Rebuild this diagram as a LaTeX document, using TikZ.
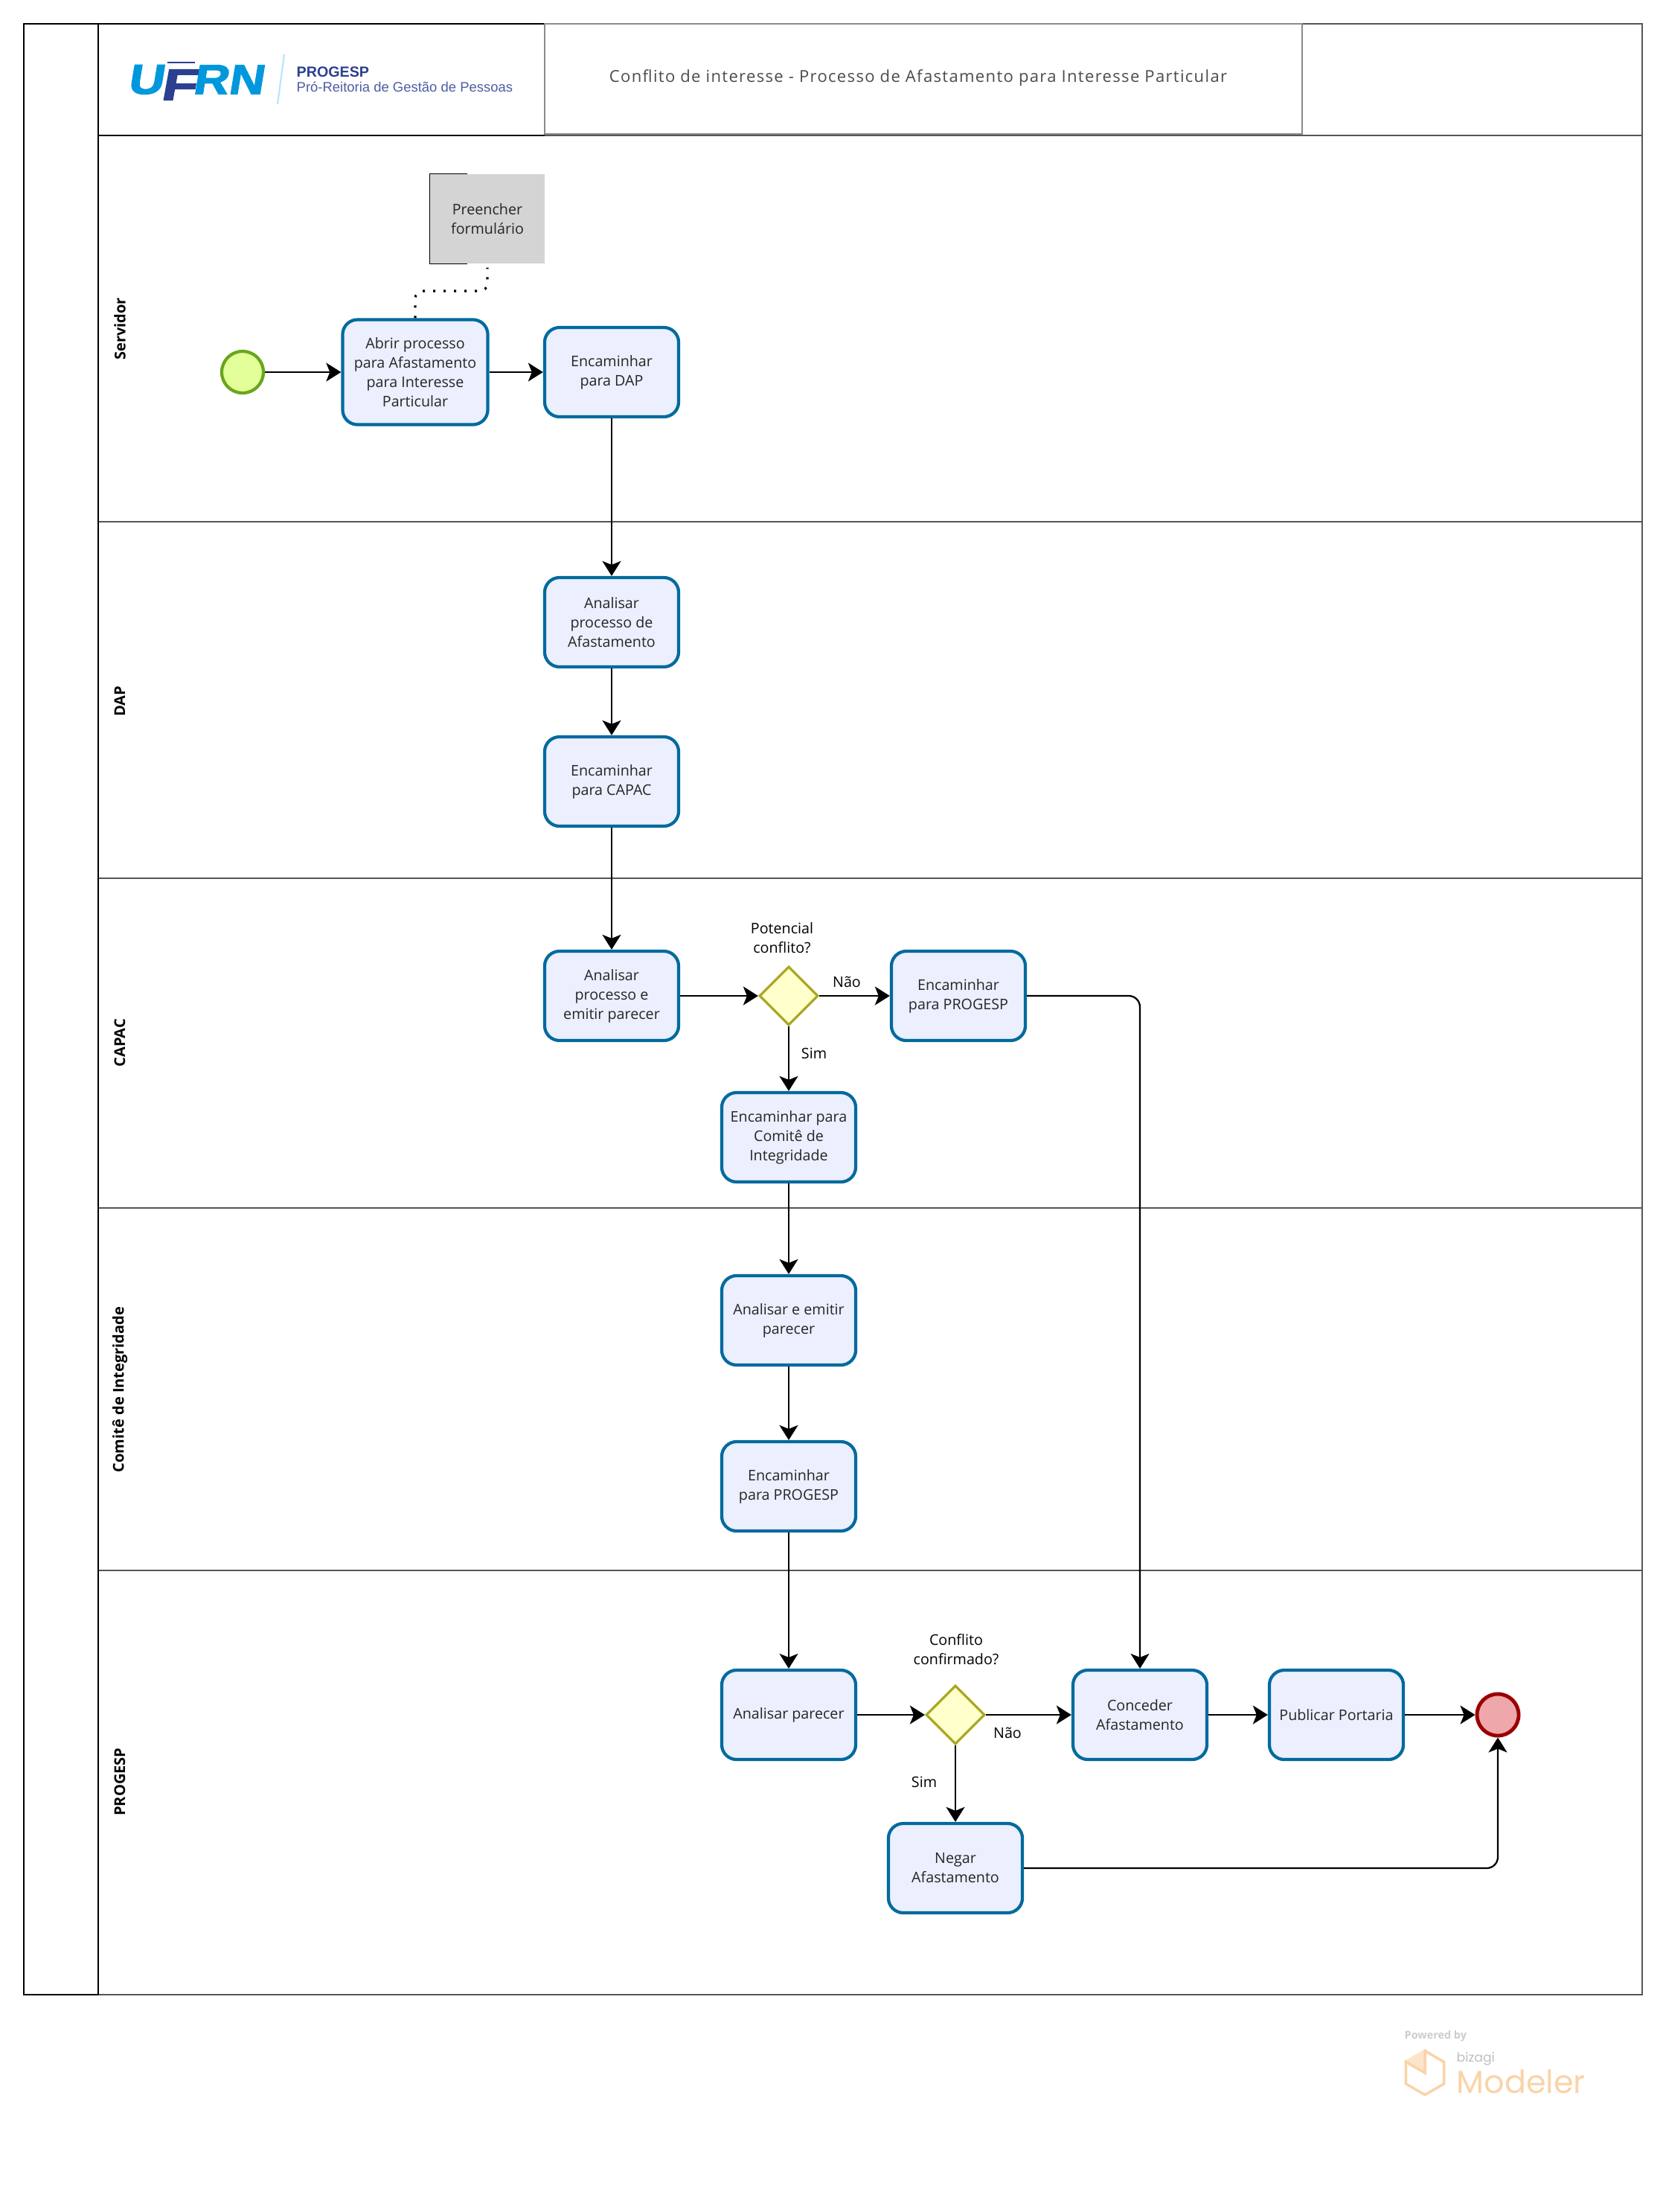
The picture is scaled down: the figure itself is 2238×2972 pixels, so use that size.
\documentclass[tikz,border=0pt]{standalone}
\usepackage{fontspec}
\setmainfont{Open Sans}
\newfontfamily\logofont{Liberation Sans}
\newfontfamily\logoheavy[FakeBold=2.2,FakeSlant=0.14]{Liberation Sans Bold}
\newfontfamily\markfont{Poppins}
\newfontfamily\titlefont[LetterSpace=6]{Open Sans}
\usetikzlibrary{arrows.meta,shapes.geometric}
\definecolor{taskline}{HTML}{006A9E}
\definecolor{taskfill}{HTML}{ECEFFE}
\definecolor{gateline}{HTML}{A8A820}
\definecolor{gatefill}{HTML}{FFFFCC}
\definecolor{startline}{HTML}{6AA51B}
\definecolor{startfill}{HTML}{E2FF99}
\definecolor{endline}{HTML}{9B0000}
\definecolor{endfill}{HTML}{EEA8AC}
\definecolor{lanegray}{HTML}{555555}
\definecolor{titlegray}{HTML}{8A8A8A}
\definecolor{ufrnblue}{HTML}{0098DC}
\definecolor{ufrndark}{HTML}{2B4090}
\definecolor{markorange}{HTML}{FAD3A8}
\tikzset{
  tasktext/.style={font=\fontsize{5.6}{7.4}\selectfont, align=center, text=black!85},
  taskbox/.style={tasktext, draw=taskline, fill=taskfill, line width=1.2pt, rounded corners=2mm,
    minimum width=18mm, minimum height=12mm, inner sep=0pt},
  gateway/.style={diamond, draw=gateline, fill=gatefill, line width=0.9pt, aspect=1,
    minimum width=7.9mm, minimum height=7.9mm, inner sep=0pt},
  flowlabel/.style={font=\fontsize{5.6}{7.4}\selectfont, align=center, text=black, inner sep=0pt},
  lanelabel/.style={font=\fontsize{5.7}{7}\selectfont\bfseries, rotate=90, inner sep=0pt},
  flow/.style={line width=0.65pt, -{Stealth[length=2mm,width=2.5mm,inset=0.5mm]}},
  logoletter/.style={font=\logoheavy\fontsize{16}{16}\selectfont, inner sep=0pt},
}
\begin{document}
\begin{tikzpicture}[x=0.01cm,y=-0.01cm]
  \useasboundingbox (0,0) rectangle (2238,2972);
  % lanes
  \draw[lanegray, line width=0.6pt] (132,32) rectangle (2207,2680);
  \foreach \ylane in {182,701,1180,1623,2110}
    \draw[lanegray, line width=0.5pt] (132,\ylane) -- (2207,\ylane);
  \draw[line width=0.6pt] (32,32) rectangle (132,2680);
  \draw[line width=0.7pt] (132,32) -- (732,32) (132,182) -- (732,182);
  \draw[titlegray, line width=0.6pt] (732,32) rectangle (1750,180);
  \node[lanelabel] (laneservidor) at (161,442) {Servidor};
  \node[lanelabel] (lanedap) at (161,942) {DAP};
  \node[lanelabel] (lanecapac) at (161,1401) {CAPAC};
  \node[lanelabel] (lanecomite) at (161,1867) {Comitê de Integridade};
  \node[lanelabel] (laneprogesp) at (161,2394) {PROGESP};

  % header
  \node[logoletter, text=ufrnblue, xscale=1.18] (logou) at (195,107) {U};
  \fill[ufrndark] (225,83) -- (262,83) -- (262,85) -- (225,85) -- cycle;
  \node[logoletter, text=ufrndark, xscale=1.3, font=\logoheavy\fontsize{17}{17}\selectfont] (logof) at (239,114) {F};
  \node[logoletter, text=ufrnblue, xscale=1.17] (logorn) at (306,107) {RN};
  \draw[cyan!30, line width=0.6pt] (382,73) -- (373,140);
  \node[anchor=west, inner sep=0pt, text=ufrndark, font=\logofont\fontsize{5.6}{7}\selectfont\bfseries] (logoprogesp) at (398,97) {PROGESP};
  \node[anchor=west, inner sep=0pt, text=ufrndark!85, font=\logofont\fontsize{5.25}{7}\selectfont] (logopro) at (398,117) {Pró-Reitoria de Gestão de Pessoas};
  \node[text=black!70, inner sep=0pt, font=\titlefont\fontsize{6.27}{8}\selectfont] (title) at (1234,105) {Conflito de interesse - Processo de Afastamento para Interesse Particular};

  % servidor
  \node[circle, draw=startline, fill=startfill, line width=1.2pt, minimum size=5.6mm, inner sep=0pt] (start) at (326,500) {};
  \node[taskbox, minimum width=19.5mm, minimum height=14.1mm] (abrir) at (558,500) {Abrir processo\\para Afastamento\\para Interesse\\Particular};
  \node[taskbox] (encdap) at (822,500) {Encaminhar\\para DAP};
  \node[tasktext, fill=black!17, minimum width=15.4mm, minimum height=12mm, inner sep=0pt] (form) at (655,294) {Preencher\\formulário};
  \draw[line width=0.4pt] ([xshift=5.1mm]form.north west) -- (form.north west) -- (form.south west) -- ([xshift=5.1mm]form.south west);
  \coordinate (assocmid) at (607,391);
  \draw[line width=0.9pt, dash pattern=on 0.3mm off 1.1mm, rounded corners=1mm, shorten >=0.5mm] (abrir.north) |- (assocmid) -| (form.south);

  % dap
  \node[taskbox] (analisardap) at (822,836) {Analisar\\processo de\\Afastamento};
  \node[taskbox] (enccapac) at (822,1050) {Encaminhar\\para CAPAC};

  % capac
  \node[taskbox] (analisarcapac) at (822,1338) {Analisar\\processo e\\emitir parecer};
  \node[gateway] (gatepot) at (1060,1338) {};
  \node[taskbox] (encprogesp) at (1288,1338) {Encaminhar\\para PROGESP};
  \node[taskbox] (enccomite) at (1060,1528) {Encaminhar para\\Comitê de\\Integridade};
  \node[flowlabel] (lblpot) at (1051,1260) {Potencial\\conflito?};
  \node[flowlabel] (lblnao) at (1138,1319) {Não};
  \node[flowlabel] (lblsim) at (1094,1415) {Sim};

  % comite
  \node[taskbox] (analisarcomite) at (1060,1774) {Analisar e emitir\\parecer};
  \node[taskbox] (encprogespb) at (1060,1997) {Encaminhar\\para PROGESP};

  % progesp
  \node[taskbox] (analisarparecer) at (1060,2304) {Analisar parecer};
  \node[gateway] (gateconf) at (1284,2304) {};
  \node[taskbox] (conceder) at (1532,2304) {Conceder\\Afastamento};
  \node[taskbox] (publicar) at (1796,2304) {Publicar Portaria};
  \node[taskbox] (negar) at (1284,2510) {Negar\\Afastamento};
  \node[circle, draw=endline, fill=endfill, line width=1.4pt, minimum size=5.6mm, inner sep=0pt] (fim) at (2013,2304) {};
  \node[flowlabel] (lblconf) at (1285,2216) {Conflito\\confirmado?};
  \node[flowlabel] (lblnaob) at (1354,2328) {Não};
  \node[flowlabel] (lblsimb) at (1242,2394) {Sim};

  % flows
  \draw[flow] (start) -- (abrir);
  \draw[flow] (abrir) -- (encdap);
  \draw[flow] (encdap) -- (analisardap);
  \draw[flow] (analisardap) -- (enccapac);
  \draw[flow] (enccapac) -- (analisarcapac);
  \draw[flow] (analisarcapac) -- (gatepot);
  \draw[flow] (gatepot) -- (encprogesp);
  \draw[flow] (gatepot) -- (enccomite);
  \draw[flow, rounded corners=1.5mm] (encprogesp) -| (conceder);
  \draw[flow] (enccomite) -- (analisarcomite);
  \draw[flow] (analisarcomite) -- (encprogespb);
  \draw[flow] (encprogespb) -- (analisarparecer);
  \draw[flow] (analisarparecer) -- (gateconf);
  \draw[flow] (gateconf) -- (conceder);
  \draw[flow] (gateconf) -- (negar);
  \draw[flow] (conceder) -- (publicar);
  \draw[flow] (publicar) -- (fim);
  \draw[flow, rounded corners=1.5mm] (negar) -| (fim);

  % footer mark
  \node[anchor=west, inner sep=0pt, text=black!20, font=\fontsize{4.1}{5}\selectfont\bfseries] (powered) at (1887,2736) {Powered by};
  \node[regular polygon, regular polygon sides=6, shape border rotate=30, draw=markorange, line width=1pt, minimum size=5.9mm, inner sep=0pt] (markhex) at (1915,2785) {};
  \fill[markorange!60] (markhex.center) -- (markhex.90) -- (markhex.150) -- cycle;
  \draw[markorange, line width=1pt] (markhex.90) -- (markhex.center) -- (markhex.150);
  \node[anchor=west, inner sep=0pt, text=black!25, font=\markfont\fontsize{4.9}{5}\selectfont] (markbizagi) at (1957,2766) {bizagi};
  \node[anchor=west, inner sep=0pt, text=markorange, font=\markfont\fontsize{12.2}{12}\selectfont] (markmodeler) at (1957,2797) {Modeler};
\end{tikzpicture}
\end{document}
